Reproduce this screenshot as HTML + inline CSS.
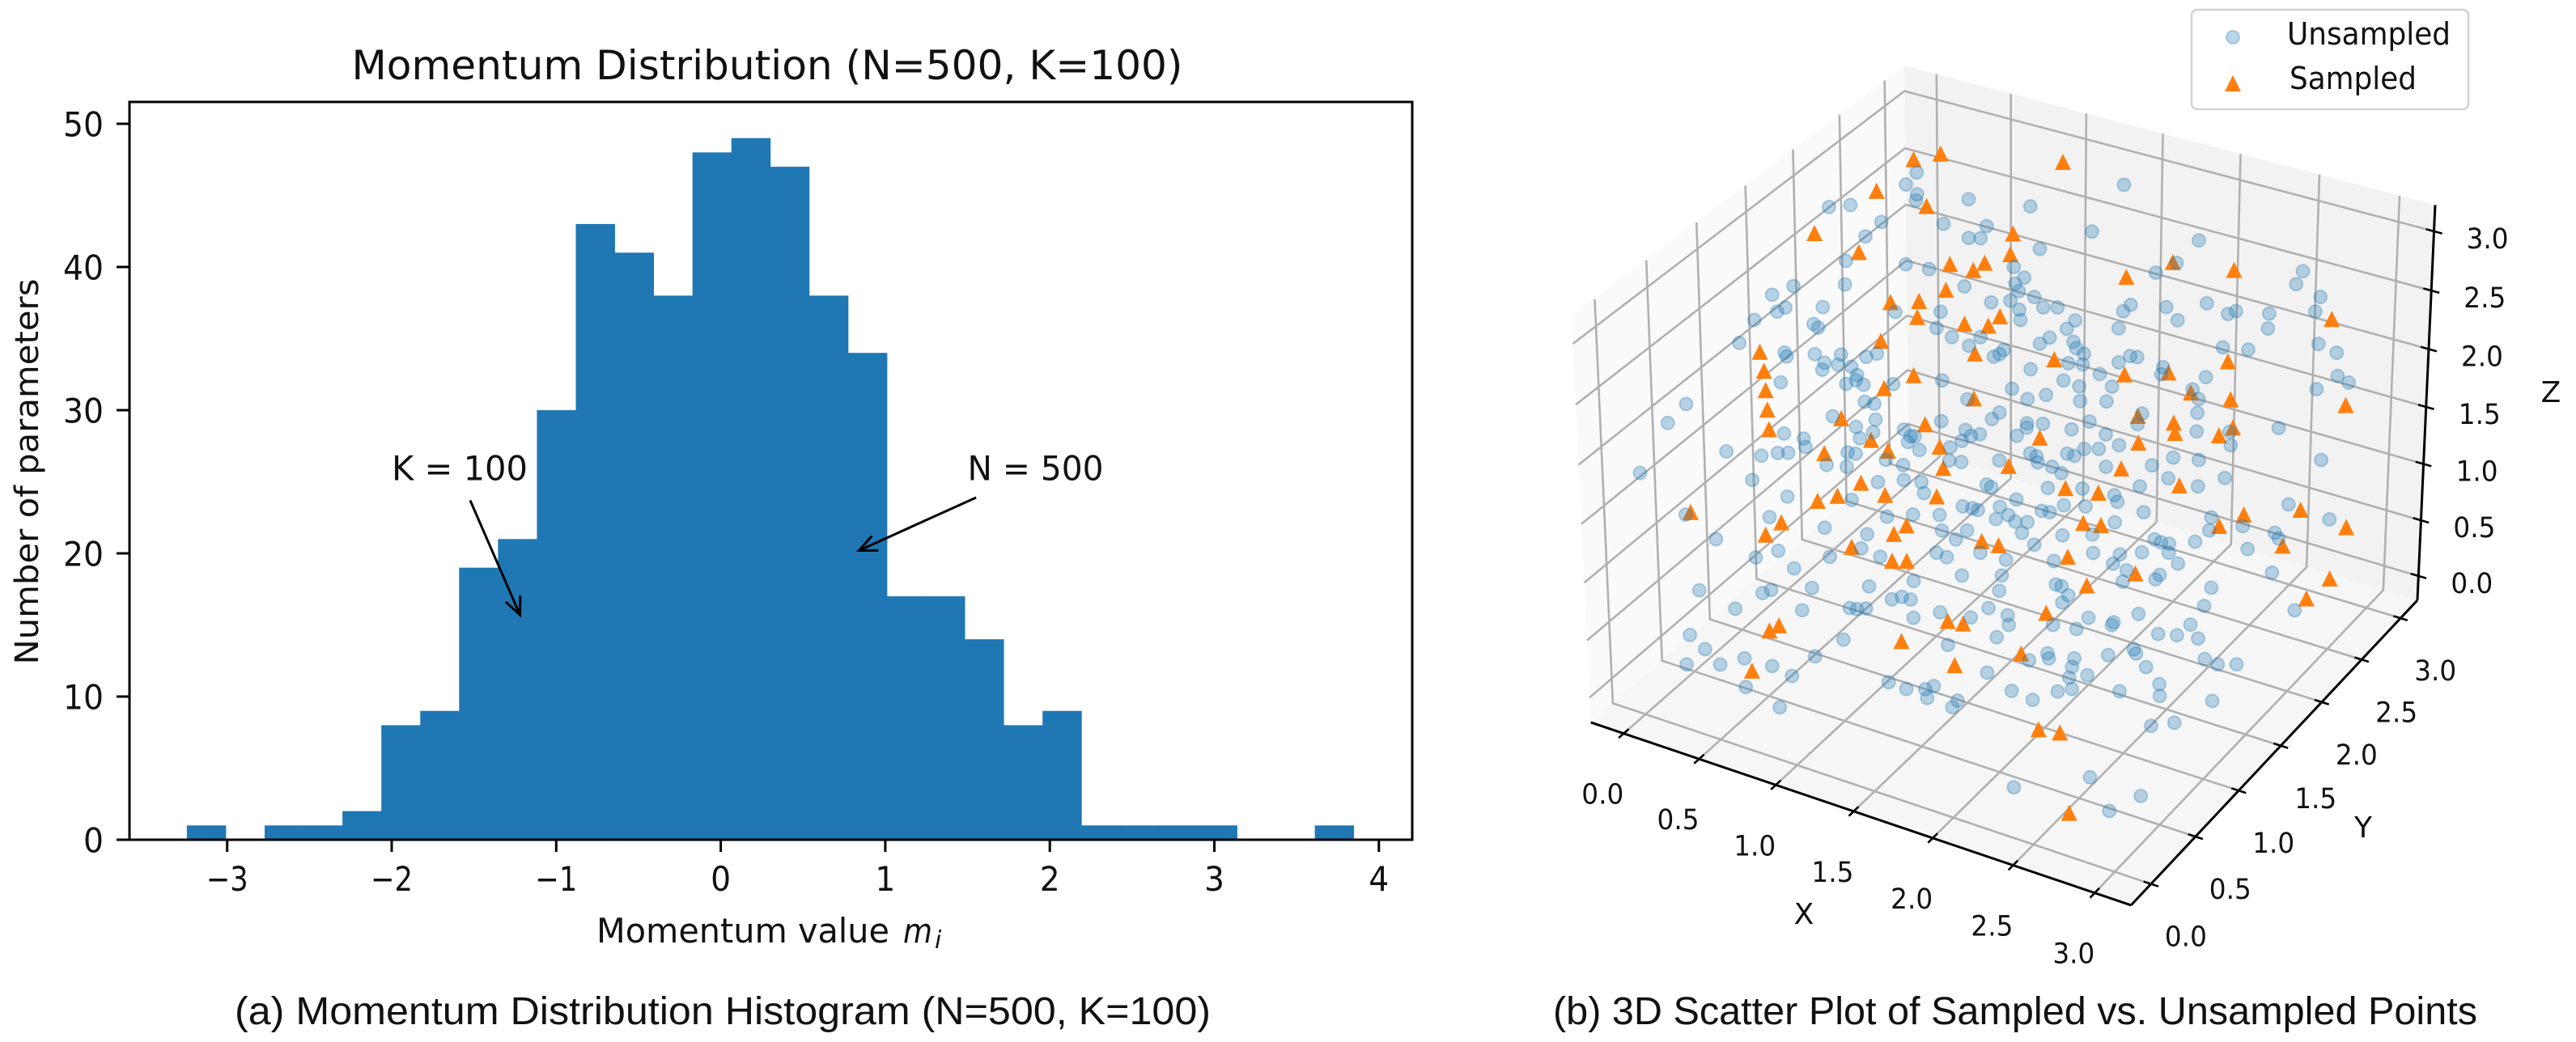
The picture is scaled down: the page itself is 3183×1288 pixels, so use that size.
<!DOCTYPE html>
<html lang="en">
<head>
<meta charset="utf-8">
<title>Momentum Distribution and 3D Scatter</title>
<style>
html,body{margin:0;padding:0;background:#fff;width:3183px;height:1288px;overflow:hidden}
svg{display:block}
text{font-family:"DejaVu Sans","Liberation Sans",sans-serif;fill:#111}
.cap{font-family:"Liberation Sans","DejaVu Sans",sans-serif}
</style>
</head>
<body>
<svg id="figure" xmlns="http://www.w3.org/2000/svg" width="3183" height="1288" viewBox="0 0 3183 1288">
  <g id="hist">
    <text x="948" y="98" font-size="50" text-anchor="middle" textLength="1027" lengthAdjust="spacingAndGlyphs">Momentum Distribution (N=500, K=100)</text>
    <g id="hist-bars"></g>
    <rect x="160" y="126" width="1585" height="912" fill="none" stroke="#000" stroke-width="3"/>
    <g id="hist-axes"></g>
    <text x="737" y="1165" font-size="42" textLength="362" lengthAdjust="spacingAndGlyphs">Momentum value</text>
    <text x="1116" y="1165" font-size="42" font-style="italic" textLength="36" lengthAdjust="spacingAndGlyphs">m</text>
    <text x="1155" y="1172" font-size="30" font-style="italic">i</text>
    <text transform="translate(47,583) rotate(-90)" font-size="40" text-anchor="middle" textLength="477" lengthAdjust="spacingAndGlyphs">Number of parameters</text>
    <g id="hist-notes"></g>
  </g>
  <g id="scatter">
    <g id="panes"></g>
    <g id="grid3d"></g>
    <g id="axes3d"></g>
    <g id="sampled"></g>
    <g id="unsampled"></g>
    <g id="labels3d"></g>
    <text x="2229" y="1142" font-size="36" text-anchor="middle">X</text>
    <text x="2920" y="1035" font-size="36" text-anchor="middle">Y</text>
    <text x="3152" y="497" font-size="36" text-anchor="middle">Z</text>
  </g>
  <g id="legend">
    <rect x="2708" y="12" width="342" height="123" rx="7" fill="#fff" fill-opacity="0.85" stroke="#d2d2d2" stroke-width="2.5"/>
    <circle cx="2759" cy="46" r="8" fill="#1f77b4" fill-opacity="0.3" stroke="#1f77b4" stroke-opacity="0.3" stroke-width="2"/>
    <text x="2826" y="55" font-size="38" textLength="202" lengthAdjust="spacingAndGlyphs">Unsampled</text>
    <polygon points="2759,93 2769,113 2749,113" fill="#ff7f0e"/>
    <text x="2829" y="110" font-size="38" textLength="157" lengthAdjust="spacingAndGlyphs">Sampled</text>
  </g>
  <text class="cap" x="290" y="1266" font-size="48" textLength="1206" lengthAdjust="spacingAndGlyphs">(a) Momentum Distribution Histogram (N=500, K=100)</text>
  <text class="cap" x="1919" y="1266" font-size="48" textLength="1142" lengthAdjust="spacingAndGlyphs">(b) 3D Scatter Plot of Sampled vs. Unsampled Points</text>
</svg>
<script>
// ---- histogram data ----
const binCounts = [1,0,1,1,2,8,9,19,21,30,43,41,38,48,49,47,38,34,17,17,14,8,9,1,1,1,1,0,0,1];
const binStart = -3.245;
const binWidth = 0.2364;
const histXTicks = [-3,-2,-1,0,1,2,3,4];
const histXTickLabels = ["\u22123","\u22122","\u22121","0","1","2","3","4"];
const histYTicks = [0,10,20,30,40,50];
const histYTickLabels = ["0","10","20","30","40","50"];
const noteLabels = ["K = 100","N = 500"];
const noteTextX = [-2.0,1.50];
const noteTextY = [25.1,25.1];
const noteTailX = [-1.523,1.552];
const noteTailY = [23.7,23.9];
const noteTipX = [-1.22,0.84];
const noteTipY = [15.7,20.2];

// ---- 3D scatter data ----
const ticks3d = [0,0.5,1,1.5,2,2.5,3];
const tickLabels3d = ["0.0","0.5","1.0","1.5","2.0","2.5","3.0"];
const unsampledX = [
.30,.27,.35,.36,-.05,.05,.62,.25,.21,.56,.72,.17,.47,.60,.23,-.02,-.10,.82,0,-.03,.18,-.12,.55,.77,.18,.21,-.14,.79,.89,.99,.11,.13,.26,.39,.56,.52,.33,.34,.40,.47,.52,.53,.58,.49,.17,.72,.95,-.23,.63,.68,1.12,-.27,.51,.73,.65,1.05,.75,.70,.32,.89,1.19,.43,.46,.94,.94,.96,1.02,.09,.27,.34,.39,.68,.72,1.16,1.20,1.23,1.19,1.25,.61,.71,.88,.98,-.27,
1.35,.94,.78,.78,1.31,1.10,1.86,1.72,1.80,1.01,1.09,1.06,1.10,2.44,2.44,2.59,.99,1.08,1.19,1.26,1.33,1.15,1.18,1.68,1.66,1.86,2.05,1.95,2.18,2.21,2.38,2.60,2.41,1.45,1.43,1.68,1.03,1.37,1.33,1.49,1.52,1.57,1.17,1.14,1.16,2.23,2.36,2.69,2.80,1.52,1.59,1.76,1.80,1.84,1.35,1.70,1.99,2.00,2.22,2.86,2.93,1.54,1.63,1.79,1.31,2.79,1.49,1.41,1.67,1.80,2.19,2.24,2.27,1.31,1.29,2.00,2.01,1.47,1.48,1.55,1.77,1.70,1.27,1.45,1.88,2.31,2.70,2.47,2.51,1.97,1.81,1.88,1.56,1.60,1.74,1.78,1.43,1.62,1.70,1.76,1.96,2.18,2.26,2.39,2.98,
.29,.50,.06,.47,.27,.76,.60,.51,.72,.90,1.02,1.11,.82,1.15,1.03,1.15,.98,.99,1.28,1.37,1.42,1.33,1.45,1.42,.86,1.10,1.36,1.42,1.54,1.32,.33,.64,.67,.86,1.13,.55,.87,1.09,1.13,1.17,1.27,1.31,1.36,1.42,1.53,1.69,.40,.51,1.14,1.65,.46,.62,.72,.88,1.05,1.00,.81,1.47,1.57,1.66,1.69,1.69,1.02,1.83,1.84,
1.43,1.46,1.73,1.90,2.17,2.29,2.45,2.56,2.07,2.10,1.61,1.85,1.96,1.45,1.55,1.76,1.80,2.25,1.61,1.56,1.66,1.72,1.72,2.14,2.59,2.61,2.93,3.16,2.76,2.93,2.96,2.06,1.92,2.57,2.37,2.41,2.45,2.84,1.81,2.11,2.34,2.24,2.47,1.57,1.71,1.94,2.23,2.54,2.31,1.73,3.01,2.32,2.47,2.48,2.01,2.04,2.76,1.76,2.10,2.09,2.77,1.75,3.21,1.86,1.89,2.48,2.25,2.22,2.38,2.38,2.10,2.75,1.86,2.62,2.71,2.82,2.54,2.56,2.14,2.16,2.28,2.07,2.43,2.90,2.97,3.07,2.30,2.65,1.91,2.39,2.31,2.75,2.07,2.19,2.29,2.35,2.58,2.78,3.04,2.81,2.91,2.65,2.32,2.93,2.82];
const unsampledY = [
2.49,2.42,2.41,2.38,2.10,2.17,2.53,2.18,2.07,2.35,2.36,1.92,2.08,2.12,1.81,1.66,1.56,2.14,1.54,1.50,1.65,1.40,1.83,1.96,1.55,1.55,1.27,1.88,1.88,1.90,1.35,1.34,1.43,1.50,1.61,1.56,1.42,1.38,1.45,1.48,1.46,1.43,1.43,1.39,1.21,1.52,1.67,.85,1.36,1.38,1.66,.72,1.21,1.31,1.23,1.49,1.25,1.19,1.00,1.35,1.52,1.03,1.00,1.34,1.31,1.35,1.30,.76,.84,.90,.93,1.09,1.11,1.40,1.46,1.51,1.34,1.37,.98,1.03,1.17,1.19,.43,
3.04,2.68,2.46,2.39,2.74,2.51,3.00,2.75,2.85,2.37,2.35,2.30,2.27,3.17,3.09,3.10,2.15,2.21,2.29,2.27,2.31,2.19,2.15,2.53,2.48,2.62,2.75,2.59,2.76,2.80,2.88,3.02,2.81,2.30,2.24,2.39,1.96,2.15,2.11,2.21,2.19,2.19,1.98,1.92,1.95,2.61,2.67,2.89,2.90,2.10,2.14,2.25,2.31,2.32,1.97,2.14,2.35,2.31,2.43,2.80,2.80,2.01,2.03,2.12,1.83,2.68,1.90,1.83,1.97,2.04,2.33,2.31,2.24,1.69,1.64,2.09,2.02,1.72,1.70,1.76,1.90,1.82,1.54,1.64,1.89,2.16,2.40,2.25,2.19,1.88,1.77,1.81,1.60,1.60,1.70,1.71,1.48,1.58,1.60,1.60,1.75,1.88,1.98,2.04,2.38,
.71,.74,.38,.60,.36,.71,.48,.39,.45,1.05,1.13,1.17,.90,1.13,.93,1.01,.80,.72,1.08,1.18,1.20,1.02,1.09,1.02,.60,.74,.91,.92,.88,.73,.09,.25,.29,.41,.57,.11,.29,.43,.44,.47,.58,.62,.63,.56,.66,.72,-.12,-.14,.28,.54,-.25,-.16,-.07,-.04,.13,-.03,-.20,.21,.23,.28,.32,.25,-.19,.28,.32,
1.34,1.34,1.50,1.59,1.76,1.87,1.92,2.03,1.65,1.63,1.36,1.47,1.52,1.21,1.28,1.38,1.40,1.66,1.27,1.22,1.26,1.29,1.23,1.53,1.82,1.76,2.09,2.14,1.87,1.93,1.92,1.42,1.33,1.67,1.57,1.57,1.59,1.78,1.21,1.34,1.48,1.41,1.55,1.03,1.07,1.20,1.35,1.53,1.36,.99,1.75,1.30,1.40,1.43,1.10,1.11,1.51,.91,1.08,1.03,1.41,.81,1.64,.83,.79,1.19,1.04,.96,1.09,1.07,.91,1.29,.71,1.16,1.21,1.25,1.03,1.02,.78,.76,.83,.70,.94,1.18,1.20,1.23,.77,.97,.52,.78,.72,.94,.51,.53,.63,.68,.80,.89,1.01,.74,.82,.35,.10,.41,.26];
const unsampledZ = [
2.91,2.84,2.79,2.76,2.73,2.74,2.77,2.66,2.59,2.65,2.58,2.46,2.44,2.42,2.35,2.34,2.30,2.34,2.24,2.22,2.24,2.18,2.22,2.22,2.16,2.14,2.06,2.14,2.10,2.05,2.02,2.00,2.01,2.01,2.01,2.00,1.97,1.94,1.96,1.95,1.91,1.89,1.87,1.87,1.88,1.87,1.89,1.78,1.79,1.78,1.80,1.69,1.72,1.71,1.67,1.70,1.65,1.62,1.64,1.66,1.66,1.62,1.58,1.63,1.60,1.63,1.57,1.56,1.54,1.55,1.55,1.56,1.55,1.58,1.61,1.63,1.52,1.51,1.50,1.49,1.52,1.50,1.46,
2.84,2.73,2.64,2.58,2.61,2.53,2.57,2.40,2.45,2.43,2.38,2.35,2.32,2.41,2.35,2.29,2.26,2.27,2.29,2.24,2.24,2.23,2.18,2.25,2.22,2.24,2.26,2.18,2.21,2.22,2.21,2.22,2.14,2.18,2.14,2.14,2.10,2.10,2.06,2.07,2.04,2.01,2.03,2.00,2.01,2.04,2.03,2.06,2.02,1.97,1.96,1.97,2.00,2.00,1.94,1.92,1.95,1.92,1.90,1.91,1.88,1.89,1.86,1.86,1.85,1.85,1.82,1.80,1.79,1.79,1.85,1.80,1.74,1.74,1.71,1.73,1.69,1.69,1.67,1.69,1.70,1.66,1.64,1.63,1.64,1.65,1.67,1.65,1.59,1.59,1.57,1.57,1.55,1.54,1.55,1.54,1.52,1.51,1.49,1.46,1.49,1.50,1.53,1.52,1.52,
1.43,1.35,1.27,1.26,1.16,1.21,1.11,1.08,1.03,1.42,1.43,1.42,1.34,1.37,1.26,1.27,1.18,1.12,1.27,1.31,1.30,1.20,1.20,1.16,1.08,1.08,1.10,1.08,1.00,.97,.94,.93,.94,.95,.96,.86,.85,.86,.86,.86,.90,.91,.90,.82,.84,.82,.74,.68,.72,.70,.61,.61,.64,.62,.65,.58,.53,.55,.52,.52,.53,.48,.44,.44,.47,
1.41,1.40,1.39,1.39,1.40,1.44,1.40,1.44,1.36,1.33,1.34,1.31,1.31,1.29,1.31,1.29,1.28,1.28,1.27,1.25,1.24,1.24,1.19,1.24,1.26,1.20,1.32,1.25,1.22,1.19,1.16,1.18,1.18,1.15,1.16,1.15,1.14,1.12,1.14,1.10,1.10,1.09,1.10,1.10,1.07,1.06,1.05,1.05,1.02,1.00,1.01,.97,.98,1.00,.96,.95,.95,.94,.92,.89,.87,.86,.85,.83,.79,.84,.82,.77,.80,.79,.79,.79,.73,.75,.74,.73,.68,.66,.66,.64,.64,.63,.65,.64,.61,.63,.62,.62,.59,.58,.57,.54,.51,.47,.51,.52,.51,.49,.47,.36,.37,.15,.11,.07,.01];
const sampledX = [
.25,.37,.14,.43,-.05,.22,.69,.82,.74,.50,.64,.67,.92,.55,-.01,.06,.12,.18,.24,.80,.69,.56,1.15,.98,.76,1.11,.57,.87,1.18,1.04,
1.00,.93,.97,.86,1.59,1.78,2.10,1.07,1.04,2.70,1.44,1.82,2.29,2.03,2.19,2.40,2.97,1.99,2.18,2.21,2.43,2.48,1.57,2.06,1.49,2.04,
.08,.82,.74,.66,.97,1.22,.54,.50,1.15,1.11,.94,1.17,1.24,.80,.77,1.42,1.59,1.67,.80,1.74,
1.82,1.99,2.36,1.99,2.08,2.74,3.00,2.65,3.26,1.55,1.64,3.00,2.00,2.36,3.30,2.16,3.24,2.04,2.02,2.29,2.40,2.64];
const sampledY = [
2.54,2.64,2.31,2.38,1.94,1.98,2.20,2.24,2.07,1.86,1.94,1.87,1.97,1.67,1.28,1.21,1.13,1.05,.97,1.61,1.47,1.22,1.68,1.43,1.21,1.37,1.02,1.21,1.29,1.88,
2.95,2.50,2.40,2.30,2.64,2.84,2.98,2.11,2.03,3.03,2.08,2.21,2.56,2.34,2.31,2.39,2.69,2.06,2.13,2.09,2.20,2.27,1.69,1.94,1.48,1.78,
.40,1.00,.88,.80,1.01,1.15,.61,.51,.94,.87,.70,.75,.79,.16,.11,.43,.64,.67,-.12,.46,
1.54,1.61,1.87,1.44,1.48,1.92,2.10,1.80,2.15,1.08,1.11,1.89,1.25,1.37,1.88,1.18,1.72,.94,.70,.42,.46,.14];
const sampledZ = [
2.97,3.00,2.80,2.73,2.60,2.51,2.44,2.41,2.32,2.26,2.27,2.19,2.16,2.07,2.02,1.93,1.84,1.75,1.66,1.91,1.85,1.71,1.80,1.68,1.61,1.58,1.55,1.56,1.48,2.01,
2.96,2.60,2.50,2.45,2.38,2.45,2.41,2.19,2.15,2.18,1.98,1.91,1.97,1.92,1.83,1.80,1.77,1.72,1.69,1.64,1.63,1.67,1.62,1.60,1.49,1.48,
1.28,1.41,1.35,1.33,1.36,1.35,1.23,1.18,1.22,1.18,1.12,1.06,1.06,.78,.76,.71,.80,.79,.60,.62,
1.39,1.37,1.40,1.23,1.22,1.27,1.29,1.22,1.21,1.15,1.13,1.13,1.08,1.00,.98,.95,.90,.84,.66,.34,.33,.00];

const NS = 'http://www.w3.org/2000/svg';
function make(tag, parent, attrs) {
  const el = document.createElementNS(NS, tag);
  for (const k in attrs) el.setAttribute(k, attrs[k]);
  parent.appendChild(el);
  return el;
}
function $(id) { return document.getElementById(id); }

// ---- histogram scales ----
function hx(v) { return 890.6 + 203.3 * v; }
function hy(v) { return 1038 - 17.7 * v; }

binCounts.forEach(function (count, i) {
  const left = hx(binStart + i * binWidth);
  const right = hx(binStart + (i + 1) * binWidth);
  const bar = make('rect', $('hist-bars'), { x: left, y: hy(count), width: right - left + 0.4, height: hy(0) - hy(count), fill: '#1f77b4' });
  
  
});
histXTicks.forEach(function (t, i) {
  const tick = make('line', $('hist-axes'), { x1: hx(t), x2: hx(t), y1: 1038, y2: 1053, stroke: '#000', 'stroke-width': 3 });
  
  
  const label = histXTickLabels[i];
  const lab = make('text', $('hist-axes'), { x: hx(t), y: 1101, 'font-size': 42, 'text-anchor': 'middle', textLength: label.length > 1 ? 52 : 25, lengthAdjust: 'spacingAndGlyphs' });
  lab.textContent = label;
  
  
});
histYTicks.forEach(function (t, i) {
  const tick = make('line', $('hist-axes'), { x1: 144, x2: 160, y1: hy(t), y2: hy(t), stroke: '#000', 'stroke-width': 3 });
  
  
  const label = histYTickLabels[i];
  const lab = make('text', $('hist-axes'), { x: 128, y: hy(t) + 15.5, 'font-size': 42, 'text-anchor': 'end', textLength: label.length > 1 ? 50 : 25, lengthAdjust: 'spacingAndGlyphs' });
  lab.textContent = label;
  
  
});
noteLabels.forEach(function (label, i) {
  const txt = make('text', $('hist-notes'), { x: hx(noteTextX[i]), y: hy(noteTextY[i]), 'font-size': 42, textLength: 168, lengthAdjust: 'spacingAndGlyphs' });
  txt.textContent = label;
  
  
  const x1 = hx(noteTailX[i]), y1 = hy(noteTailY[i]), x2 = hx(noteTipX[i]), y2 = hy(noteTipY[i]);
  const ang = Math.atan2(y2 - y1, x2 - x1);
  const headLen = 24;
  const d = 'M' + x1 + ' ' + y1 + 'L' + x2 + ' ' + y2 +
    'M' + (x2 - headLen * Math.cos(ang - 0.42)) + ' ' + (y2 - headLen * Math.sin(ang - 0.42)) +
    'L' + x2 + ' ' + y2 +
    'L' + (x2 - headLen * Math.cos(ang + 0.42)) + ' ' + (y2 - headLen * Math.sin(ang + 0.42));
  const arrow = make('path', $('hist-notes'), { d: d, fill: 'none', stroke: '#000', 'stroke-width': 3 });
  
  
});

// ---- 3D projection ----
const lo = -0.22, hi = 3.22;
function project(x, y, z) {
  const dx = x - 1.5, dy = y - 1.5, dz = z - 1.5;
  const w = 1 - 0.0355 * (0.433 * dx - 0.75 * dy + 0.36 * dz);
  return [2486 + (192.3 * dx + 111 * dy) / w, 574 - (-57.5 * dx + 99.6 * dy + 143.8 * dz) / w];
}
function pts(list) {
  return list.map(function (p) { return project(p[0], p[1], p[2]).map(function (v) { return v.toFixed(1); }).join(','); }).join(' ');
}
const paneLeft = make('polygon', $('panes'), { points: pts([[lo,lo,lo],[lo,hi,lo],[lo,hi,hi],[lo,lo,hi]]), fill: '#fafafa' });


const paneBack = make('polygon', $('panes'), { points: pts([[lo,hi,lo],[hi,hi,lo],[hi,hi,hi],[lo,hi,hi]]), fill: '#f2f2f2' });


const paneFloor = make('polygon', $('panes'), { points: pts([[lo,lo,lo],[hi,lo,lo],[hi,hi,lo],[lo,hi,lo]]), fill: '#f6f6f6' });



const gridStyle = { fill: 'none', stroke: '#b0b0b0', 'stroke-width': 2.6, 'stroke-linejoin': 'round' };
function gridLine(list) {
  const attrs = Object.assign({ points: pts(list) }, gridStyle);
  const g = make('polyline', $('grid3d'), attrs);
  
  
}
ticks3d.forEach(function (t) {
  gridLine([[t,lo,lo],[t,hi,lo],[t,hi,hi]]);
  gridLine([[hi,t,lo],[lo,t,lo],[lo,t,hi]]);
  gridLine([[lo,lo,t],[lo,hi,t],[hi,hi,t]]);
});

function axisLine(list) {
  const a = make('polyline', $('axes3d'), { points: pts(list), fill: 'none', stroke: '#000', 'stroke-width': 3 });
  
  
}
axisLine([[lo,lo,lo],[hi,lo,lo]]);
axisLine([[hi,lo,lo],[hi,hi,lo]]);
axisLine([[hi,hi,lo],[hi,hi,hi]]);

function tickMark(a, b) {
  const t = make('polyline', $('axes3d'), { points: pts([a, b]), fill: 'none', stroke: '#000', 'stroke-width': 2.6 });
  
  
}
function tickLabel(pos, offX, offY, label) {
  const l = make('text', $('labels3d'), { x: pos[0] + offX, y: pos[1] + offY + 13, 'font-size': 35, 'text-anchor': 'middle', textLength: 52, lengthAdjust: 'spacingAndGlyphs' });
  l.textContent = label;
  
  
}
ticks3d.forEach(function (t, i) {
  tickMark([t, lo - 0.05, lo], [t, lo + 0.05, lo]);
  tickLabel(project(t, lo, lo), -26, 74, tickLabels3d[i]);
  tickMark([hi - 0.045, t, lo], [hi + 0.045, t, lo]);
  tickLabel(project(hi, t, lo), 43, 64, tickLabels3d[i]);
  tickMark([hi - 0.05, hi, t], [hi + 0.05, hi, t]);
  tickLabel(project(hi, hi, t), 66, 8, tickLabels3d[i]);
});

sampledX.forEach(function (x, i) {
  const p = project(x, sampledY[i], sampledZ[i]);
  const tri = make('polygon', $('sampled'), {
    points: p[0] + ',' + (p[1] - 11) + ' ' + (p[0] + 10) + ',' + (p[1] + 9) + ' ' + (p[0] - 10) + ',' + (p[1] + 9),
    fill: '#ff7f0e'
  });
  
  
});
unsampledX.forEach(function (x, i) {
  const p = project(x, unsampledY[i], unsampledZ[i]);
  const c = make('circle', $('unsampled'), {
    cx: p[0], cy: p[1], r: 8, fill: '#1f77b4', 'fill-opacity': 0.3, stroke: '#1f77b4', 'stroke-opacity': 0.3, 'stroke-width': 2
  });
  
  
});
</script>
</body>
</html>
